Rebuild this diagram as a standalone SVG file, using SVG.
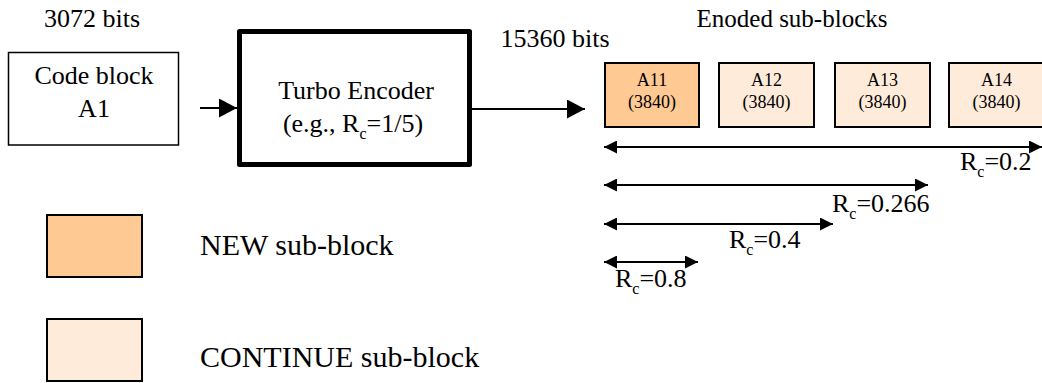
<svg xmlns="http://www.w3.org/2000/svg" width="1042" height="383" viewBox="0 0 1042 383">
<style>
text{font-family:'Liberation Serif','DejaVu Serif','Times New Roman',serif;fill:#000}
.t26{font-size:26px}
.t30{font-size:30px}
.t18{font-size:18px}
.sub{font-size:16px}
.box{stroke:#000;stroke-width:2}
.new{fill:#FFC994}
.cont{fill:#FFEBDA}
.ln{stroke:#000;stroke-width:2;fill:none}
</style>
<defs>
<marker id="big" viewBox="0 0 18 19" refX="18" refY="9.5" markerWidth="18" markerHeight="19" markerUnits="userSpaceOnUse" orient="auto">
<path d="M0,0 L18,9.5 L0,19 Z" fill="#000"/>
</marker>
<marker id="dim" viewBox="0 0 13 13" refX="13" refY="6.5" markerWidth="13" markerHeight="13" markerUnits="userSpaceOnUse" orient="auto-start-reverse">
<path d="M0,0 L13,6.5 L0,13 Z" fill="#000"/>
</marker>
</defs>
<g font-family="Liberation Serif, DejaVu Serif, serif">
<text class="t26" x="92" y="27" text-anchor="middle">3072 bits</text>
<text class="t26" x="555" y="47" text-anchor="middle">15360 bits</text>
<text class="t26" x="792" y="27" text-anchor="middle" style="font-size:25px">Enoded sub-blocks</text>

<g id="code-block">
<rect x="8.5" y="52.5" width="170" height="92.5" fill="#fff" stroke="#000" stroke-width="1.5"/>
<text class="t26" x="94" y="84" text-anchor="middle">Code block</text>
<text class="t26" x="94" y="117" text-anchor="middle">A1</text>
</g>

<g id="turbo-encoder">
<rect x="239.5" y="31.5" width="230" height="133" fill="#fff" stroke="#000" stroke-width="5" stroke-linejoin="round"/>
<text class="t26" x="356" y="99" text-anchor="middle">Turbo Encoder</text>
<text class="t26" x="353" y="132" text-anchor="middle">(e.g., R<tspan class="sub" dy="7">c</tspan><tspan dy="-7">=1/5)</tspan></text>
</g>

<g id="A11">
<rect class="box new" x="605" y="63" width="94" height="64"/>
<text class="t18" x="652" y="86" text-anchor="middle">A11</text>
<text class="t18" x="652" y="108" text-anchor="middle">(3840)</text>
</g>
<g id="A12">
<rect class="box cont" x="719" y="63" width="95" height="64"/>
<text class="t18" x="766.5" y="86" text-anchor="middle">A12</text>
<text class="t18" x="766.5" y="108" text-anchor="middle">(3840)</text>
</g>
<g id="A13">
<rect class="box cont" x="835" y="63" width="95" height="64"/>
<text class="t18" x="882.5" y="86" text-anchor="middle">A13</text>
<text class="t18" x="882.5" y="108" text-anchor="middle">(3840)</text>
</g>
<g id="A14">
<rect class="box cont" x="949" y="63" width="95" height="64"/>
<text class="t18" x="996.5" y="86" text-anchor="middle">A14</text>
<text class="t18" x="996.5" y="108" text-anchor="middle">(3840)</text>
</g>

<g id="connectors">
<line class="ln" x1="200" y1="108" x2="237" y2="108" marker-end="url(#big)"/>
<line class="ln" x1="472" y1="109" x2="585" y2="109" marker-end="url(#big)"/>
<line class="ln" x1="604" y1="147" x2="1042" y2="147" marker-start="url(#dim)" marker-end="url(#dim)"/>
<line class="ln" x1="604" y1="185" x2="928" y2="185" marker-start="url(#dim)" marker-end="url(#dim)"/>
<line class="ln" x1="604" y1="224" x2="833" y2="224" marker-start="url(#dim)" marker-end="url(#dim)"/>
<line class="ln" x1="604" y1="262" x2="698" y2="262" marker-start="url(#dim)" marker-end="url(#dim)"/>
</g>

<g id="rate-labels">
<text class="t26" x="960" y="170">R<tspan class="sub" dy="7">c</tspan><tspan dy="-7">=0.2</tspan></text>
<text class="t26" x="832" y="212">R<tspan class="sub" dy="7">c</tspan><tspan dy="-7">=0.266</tspan></text>
<text class="t26" x="729" y="248">R<tspan class="sub" dy="7">c</tspan><tspan dy="-7">=0.4</tspan></text>
<text class="t26" x="615" y="287">R<tspan class="sub" dy="7">c</tspan><tspan dy="-7">=0.8</tspan></text>
</g>

<g id="legend-new">
<rect class="box new" x="47" y="215" width="95" height="62"/>
<text class="t30" x="200" y="255">NEW sub-block</text>
</g>
<g id="legend-continue">
<rect class="box cont" x="47" y="319" width="95" height="62"/>
<text class="t30" x="200" y="367">CONTINUE sub-block</text>
</g>
</g>
</svg>
